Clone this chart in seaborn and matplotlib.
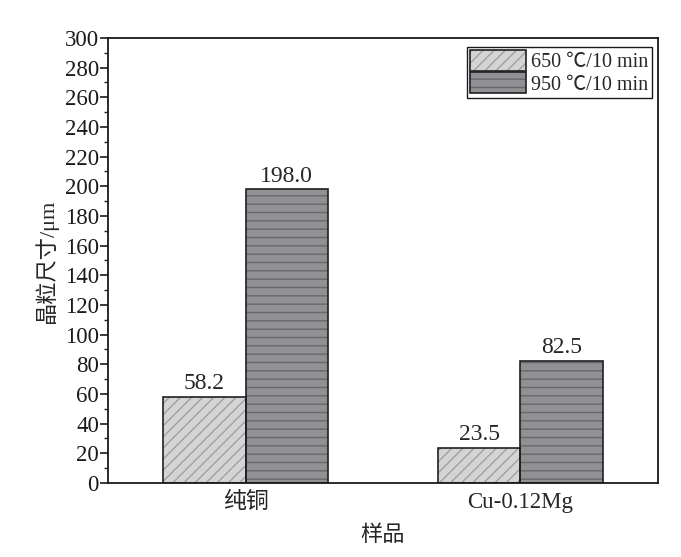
import matplotlib
matplotlib.use("Agg")
import matplotlib.pyplot as plt
from matplotlib.patches import Rectangle, Patch
from matplotlib.ticker import MultipleLocator
import seaborn as sns
import pandas as pd

# Grain size data
samples = ["纯铜", "Cu-0.12Mg"]
conditions = ["650 ℃/10 min", "950 ℃/10 min"]
size_650 = [58.2, 23.5]
size_950 = [198.0, 82.5]

df = pd.DataFrame({
    "样品": samples * 2,
    "条件": [conditions[0]] * 2 + [conditions[1]] * 2,
    "晶粒尺寸": size_650 + size_950,
})

sns.set_style("white")
plt.rcParams["font.family"] = ["Liberation Serif", "Noto Sans CJK SC"]
plt.rcParams["hatch.linewidth"] = 1.0

fig = plt.figure(figsize=(6.81, 5.57), dpi=100)
ax = fig.add_axes([0.1586, 0.1329, 0.8076, 0.7989])

fills = {conditions[0]: "#d4d4d4", conditions[1]: "#909095"}
hatch_colors = {conditions[0]: "#a0a0a0", conditions[1]: "#68686c"}
hatches = {conditions[0]: "///", conditions[1]: "--"}

sns.barplot(data=df, x="样品", y="晶粒尺寸", hue="条件", hue_order=conditions,
            order=samples, palette=fills, width=0.6, gap=0, legend=False,
            saturation=1, errorbar=None, ax=ax)

for cond, cont in zip(conditions, ax.containers):
    for bar in cont:
        bar.set_hatch(hatches[cond])
        bar.set_edgecolor(hatch_colors[cond])
        bar.set_linewidth(0)
        ax.add_patch(Rectangle(bar.get_xy(), bar.get_width(), bar.get_height(),
                               fill=False, edgecolor="#202020", linewidth=1.2,
                               zorder=bar.get_zorder() + 0.1))
    ax.bar_label(cont, fmt="%.1f", padding=2, fontsize=17)

ax.set_xlim(-0.5, 1.5)
ax.set_ylim(0, 300)
ax.yaxis.set_major_locator(MultipleLocator(20))
ax.yaxis.set_minor_locator(MultipleLocator(10))
ax.tick_params(axis="y", which="major", direction="out", length=6, width=1.2,
               labelsize=16.5, left=True, right=False, colors="#1a1a1a", pad=0.5)
ax.tick_params(axis="y", which="minor", direction="out", length=3, width=1.0,
               left=True, right=False)
ax.tick_params(axis="x", bottom=False, top=False, labelsize=16.5, pad=3)

for s in ax.spines.values():
    s.set_visible(True)
    s.set_color("#1a1a1a")
    s.set_linewidth(1.3)

ax.set_xlabel("样品", fontsize=16, labelpad=9)
ax.set_ylabel("晶粒尺寸/μm", fontsize=16, labelpad=5)

handles = [Patch(facecolor=fills[c], edgecolor=hatch_colors[c], hatch=hatches[c],
                 linewidth=0) for c in conditions]
outlines = [Patch(facecolor="none", edgecolor="#202020", linewidth=1.2) for c in conditions]
leg = ax.legend([(h, o) for h, o in zip(handles, outlines)], conditions,
                loc="upper right", bbox_to_anchor=(0.996, 0.988), fontsize=14.5,
                frameon=True, fancybox=False, framealpha=1, edgecolor="#1a1a1a",
                handlelength=2.8, handleheight=1.2, handletextpad=0.25,
                borderpad=0.15, labelspacing=0.0, borderaxespad=0.2)
leg.get_frame().set_linewidth(1.0)

fig.savefig("out.png", dpi=100, facecolor="white")
